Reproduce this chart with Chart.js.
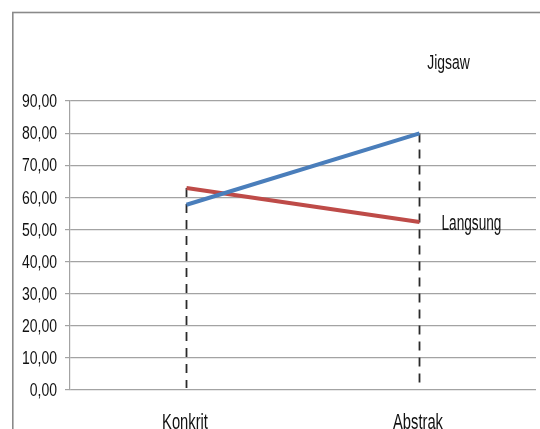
<!DOCTYPE html>
<html>
<head>
<meta charset="utf-8">
<script src="https://cdn.jsdelivr.net/npm/chart.js@4/dist/chart.umd.min.js"></script>
<style>
  html, body { margin: 0; padding: 0; background: #fff; }
  #wrap { position: relative; width: 540px; height: 429px; }
</style>
</head>
<body>
<div id="wrap"><canvas id="c" width="540" height="429"></canvas></div>
<script>
const categories = ["Konkrit", "Abstrak"];
const jigsawValues = [57.7, 79.9];
const langsungValues = [62.9, 52.3];
const seriesNames = ["Jigsaw", "Langsung"];
const yTicks = [0, 10, 20, 30, 40, 50, 60, 70, 80, 90];

const FONT = "'Liberation Sans', Arial, sans-serif";
const TEXT = '#111111';

// draw horizontally condensed text (Calibri-like narrow look)
function narrowText(ctx, str, x, y, size, sx, align) {
  ctx.save();
  ctx.font = size + 'px ' + FONT;
  ctx.fillStyle = TEXT;
  ctx.textBaseline = 'alphabetic';
  const w = ctx.measureText(str).width * sx;
  let left = x;
  if (align === 'right') left = x - w;
  else if (align === 'center') left = x - w / 2;
  ctx.translate(left, y);
  ctx.scale(sx, 1);
  ctx.textAlign = 'left';
  ctx.fillText(str, 0, 0);
  ctx.restore();
}

const frame = {
  id: 'frame',
  beforeDraw(chart) {
    const ctx = chart.ctx;
    ctx.save();
    ctx.fillStyle = '#fff';
    ctx.fillRect(0, 0, chart.width, chart.height);
    ctx.strokeStyle = '#8a8a8a';
    ctx.lineWidth = 1.6;
    ctx.strokeRect(12.8, 12.5, 700, 700);
    ctx.restore();
  }
};

const dropLines = {
  id: 'dropLines',
  beforeDatasetsDraw(chart) {
    const ctx = chart.ctx;
    const xs = chart.scales.x, ys = chart.scales.y;
    ctx.save();
    ctx.strokeStyle = '#2a2a2a';
    ctx.lineWidth = 1.8;
    ctx.setLineDash([9, 7]);
    categories.forEach((c, i) => {
      const top = Math.max(jigsawValues[i], langsungValues[i]);
      const x = xs.getPixelForValue(i);
      ctx.beginPath();
      ctx.moveTo(x, ys.getPixelForValue(top));
      ctx.lineTo(x, ys.getPixelForValue(0) - 2);
      ctx.stroke();
    });
    ctx.restore();
  }
};

const texts = {
  id: 'texts',
  afterDraw(chart) {
    const ctx = chart.ctx;
    const xs = chart.scales.x, ys = chart.scales.y;
    ys.ticks.forEach(t => {
      const y = ys.getPixelForValue(t.value);
      narrowText(ctx, t.value.toFixed(2).replace('.', ','), 57, y + 6.2, 17.5, 0.8, 'right');
    });
    categories.forEach((c, i) => {
      narrowText(ctx, c, xs.getPixelForValue(i) - 1.5, 428.5, 22, 0.67, 'center');
    });
    narrowText(ctx, seriesNames[0], 427.3, 68.5, 20.5, 0.68, 'left');
    narrowText(ctx, seriesNames[1], 441.5, 229.5, 22, 0.62, 'left');
  }
};

new Chart(document.getElementById('c'), {
  type: 'line',
  data: {
    labels: categories,
    datasets: [
      { label: seriesNames[0], data: jigsawValues, borderColor: '#4A7EBB', borderWidth: 4, pointRadius: 0, tension: 0 },
      { label: seriesNames[1], data: langsungValues, borderColor: '#BE4B48', borderWidth: 4, pointRadius: 0, tension: 0 }
    ]
  },
  options: {
    responsive: false,
    animation: false,
    devicePixelRatio: 1,
    layout: { padding: { top: 101, right: 4, left: 0, bottom: 0 } },
    plugins: { legend: { display: false }, tooltip: { enabled: false } },
    scales: {
      x: {
        type: 'category',
        offset: true,
        grid: { display: false, drawTicks: false },
        border: { display: false },
        ticks: { display: false },
        afterFit(s) { s.height = 39; }
      },
      y: {
        min: 0, max: 90,
        afterBuildTicks(s) { s.ticks = yTicks.map(v => ({ value: v })); },
        grid: { color: '#a3a3a3', lineWidth: 1.2, tickLength: 5, drawTicks: true },
        border: { display: true, color: '#a3a3a3', width: 1.2 },
        ticks: { display: false },
        afterFit(s) { s.width = 70; }
      }
    }
  },
  plugins: [frame, dropLines, texts]
});
</script>
</body>
</html>
